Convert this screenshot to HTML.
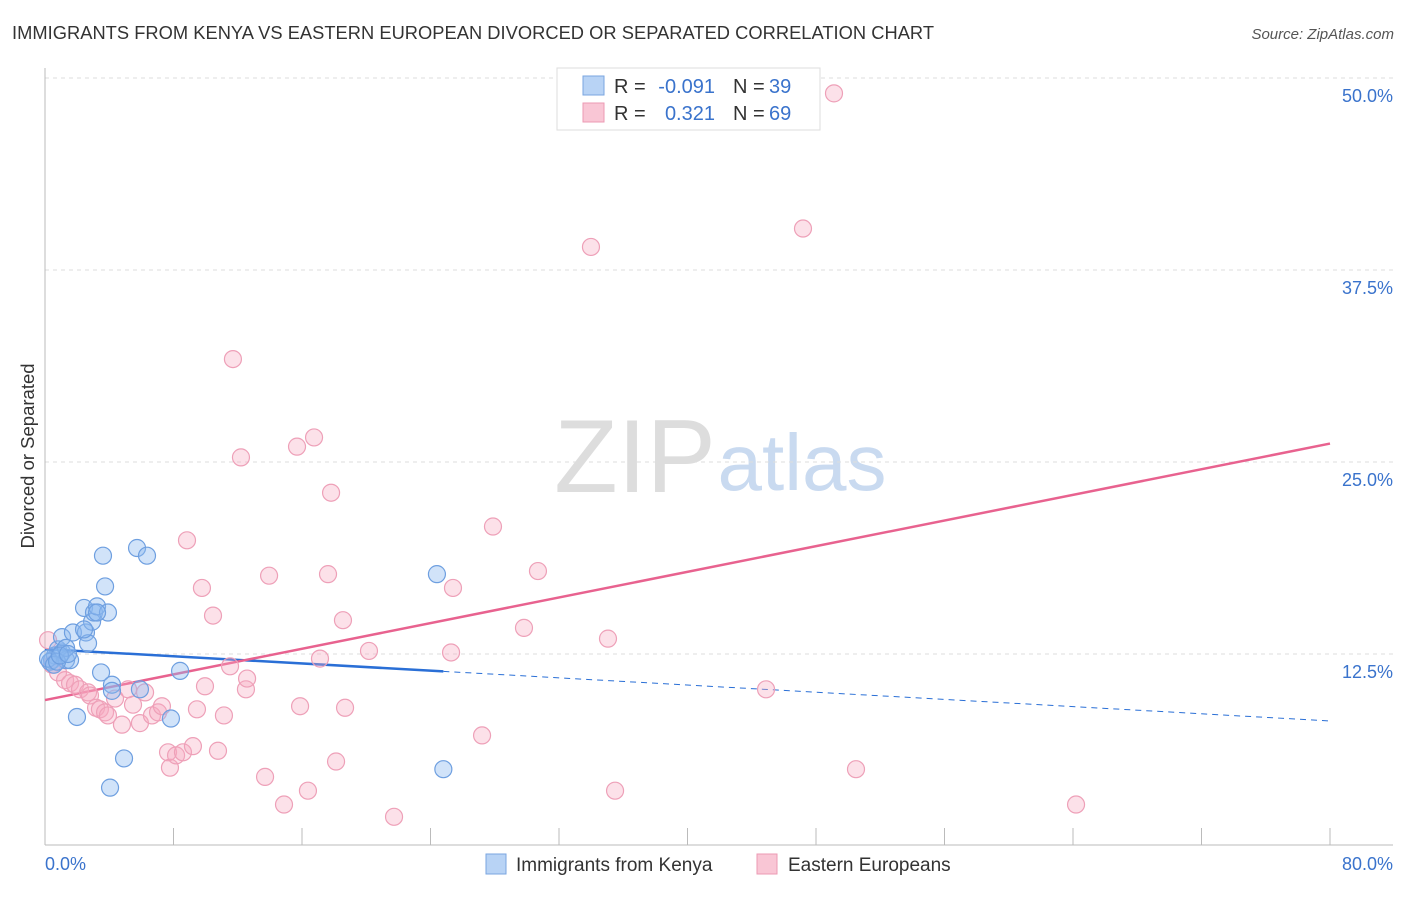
<!DOCTYPE html>
<html><head><meta charset="utf-8"><style>
body{margin:0;background:#fff;font-family:"Liberation Sans",sans-serif;}
svg text{font-family:"Liberation Sans",sans-serif;}
</style></head><body>
<svg width="1406" height="892">
<text x="12" y="39" font-size="18.3" fill="#333" textLength="922">IMMIGRANTS FROM KENYA VS EASTERN EUROPEAN DIVORCED OR SEPARATED CORRELATION CHART</text>
<text x="1394" y="39" font-size="15" fill="#555" font-style="italic" text-anchor="end">Source: ZipAtlas.com</text>
<text transform="translate(34,456) rotate(-90)" font-size="18.5" fill="#333" text-anchor="middle">Divorced or Separated</text>
<g>
<text x="635" y="492" font-size="104" font-family="Liberation Serif,serif" fill="#ddd" text-anchor="middle">ZIP</text>
<text x="802" y="490" font-size="80" fill="#c9daf0" text-anchor="middle">atlas</text>
</g>
<g id="grid"></g><g id="axes"></g><g id="lines"></g><g id="pts"></g>
<g>
<rect x="557" y="68" width="263" height="62" fill="#fff" stroke="#ddd"/>
<rect x="583" y="76" width="21" height="19" fill="#b8d3f5" stroke="#7aa6e0"/>
<rect x="583" y="103" width="21" height="19" fill="#f9c6d5" stroke="#ec9ab3"/>
<text x="614" y="93" font-size="20" fill="#333">R =</text>
<text x="715" y="93" font-size="20" fill="#3a73cc" text-anchor="end">-0.091</text>
<text x="733" y="93" font-size="20" fill="#333">N =</text>
<text x="769" y="93" font-size="20" fill="#3a73cc">39</text>
<text x="614" y="120" font-size="20" fill="#333">R =</text>
<text x="715" y="120" font-size="20" fill="#3a73cc" text-anchor="end">0.321</text>
<text x="733" y="120" font-size="20" fill="#333">N =</text>
<text x="769" y="120" font-size="20" fill="#3a73cc">69</text>
</g>
<g>
<rect x="486" y="854" width="20" height="20" fill="#b8d3f5" stroke="#7aa6e0"/>
<text x="516" y="871" font-size="19" fill="#333">Immigrants from Kenya</text>
<rect x="757" y="854" width="20" height="20" fill="#f9c6d5" stroke="#ec9ab3"/>
<text x="788" y="871" font-size="19" fill="#333">Eastern Europeans</text>
</g>
</svg>
<script>
const xTicks=[0,8,16,24,32,40,48,56,64,72,80];
const yTicks=[12.5,25,37.5,50];
const yTickLabels=["12.5%","25.0%","37.5%","50.0%"];
const blueX=[0.44,0.62,0.81,1.06,1.31,1.56,1.06,1.31,1.74,2.43,2.55,2.68,2.93,2.43,3.05,3.24,3.49,3.61,3.74,3.92,4.17,4.92,4.05,1.99,5.73,6.35,5.91,7.84,8.41,24.4,24.8,0.31,0.19,0.56,0.75,0.93,1.43,4.17,3.24];
const blueY=[12.1,12.4,12.8,12.6,12.1,12.1,13.6,12.9,13.9,15.5,13.9,13.2,14.6,14.1,15.2,15.6,11.3,18.9,16.9,15.2,10.5,5.7,3.8,8.4,19.4,18.9,10.2,8.3,11.4,17.7,5.0,12.0,12.2,11.8,12.0,12.4,12.5,10.1,15.2];
const pinkX=[0.19,0.44,0.81,1.25,1.56,1.87,2.18,2.68,2.8,3.18,3.42,3.74,3.92,4.36,4.79,5.17,5.48,5.91,6.23,6.66,7.04,7.28,7.66,7.78,8.16,8.59,8.84,9.21,9.46,9.77,9.96,10.46,10.77,11.14,11.52,11.7,12.2,12.51,12.58,13.7,13.95,14.88,15.69,15.88,16.37,16.75,17.62,17.81,18.12,18.55,18.68,20.17,21.73,25.28,25.4,27.21,27.89,29.82,30.69,33.99,35.05,35.49,44.89,47.19,49.12,50.49,64.19,17.12];
const pinkY=[13.4,11.8,11.3,10.8,10.6,10.5,10.2,10.0,9.8,9.0,8.9,8.7,8.5,9.6,7.9,10.2,9.2,8.0,10.0,8.5,8.7,9.1,6.1,5.1,5.9,6.1,19.9,6.5,8.9,16.8,10.4,15.0,6.2,8.5,11.7,31.7,25.3,10.2,10.9,4.5,17.6,2.7,26.0,9.1,3.6,26.6,17.7,23.0,5.5,14.7,9.0,12.7,1.9,12.6,16.8,7.2,20.8,14.2,17.9,39.0,13.5,3.6,10.2,40.2,49.0,5.0,2.7,12.2];
const blueTrend=[12.82,8.14], blueSolidEnd=24.8;
const pinkTrend=[9.5,26.2];
const NS="http://www.w3.org/2000/svg";
const sx=v=>45+v/80*1285, sy=v=>846-v/12.5*192;
function mk(p,t,a){const e=document.createElementNS(NS,t);for(const k in a)e.setAttribute(k,a[k]);document.getElementById(p).appendChild(e);return e;}
yTicks.forEach((t,i)=>{
 const l=mk('grid','line',{x1:45,x2:1393,y1:sy(t),y2:sy(t),stroke:'#ddd','stroke-dasharray':'4,4'});
 
 
 const tx=mk('grid','text',{x:1393,y:sy(t)+24,'font-size':18,fill:'#3a73cc','text-anchor':'end'});
 tx.textContent=yTickLabels[i];
 
 
});
const ax=mk('axes','line',{x1:45,x2:1393,y1:845,y2:845,stroke:'#bbb'});


const ay=mk('axes','line',{x1:45,x2:45,y1:68,y2:845,stroke:'#bbb'});


xTicks.forEach(t=>{
 const l=mk('axes','line',{x1:sx(t),x2:sx(t),y1:828,y2:845,stroke:'#bbb'});
 
 
});
[[0,'0.0%','start',45],[80,'80.0%','end',1393]].forEach(d=>{
 const tx=mk('axes','text',{x:d[3],y:870,'font-size':18,fill:'#3a73cc','text-anchor':d[2]});
 tx.textContent=d[1];
 
 
});
const by=x=>blueTrend[0]+(blueTrend[1]-blueTrend[0])*x/80;
let e=mk('lines','line',{x1:sx(0),y1:sy(by(0)),x2:sx(blueSolidEnd),y2:sy(by(blueSolidEnd)),stroke:'#2a6fd6','stroke-width':2.5});


e=mk('lines','line',{x1:sx(blueSolidEnd),y1:sy(by(blueSolidEnd)),x2:sx(80),y2:sy(by(80)),stroke:'#2a6fd6','stroke-width':1,'stroke-dasharray':'6,5'});


e=mk('lines','line',{x1:sx(0),y1:sy(pinkTrend[0]),x2:sx(80),y2:sy(pinkTrend[1]),stroke:'#e8628f','stroke-width':2.5});


pinkX.forEach((x,i)=>{
 const c=mk('pts','circle',{cx:sx(x),cy:sy(pinkY[i]),r:8.5,fill:'rgba(246,168,192,0.35)',stroke:'#eea0b8','stroke-width':1.2});
 
 
});
blueX.forEach((x,i)=>{
 const c=mk('pts','circle',{cx:sx(x),cy:sy(blueY[i]),r:8.5,fill:'rgba(140,185,240,0.4)',stroke:'#6e9fe0','stroke-width':1.2});
 
 
});
</script>
</body></html>
